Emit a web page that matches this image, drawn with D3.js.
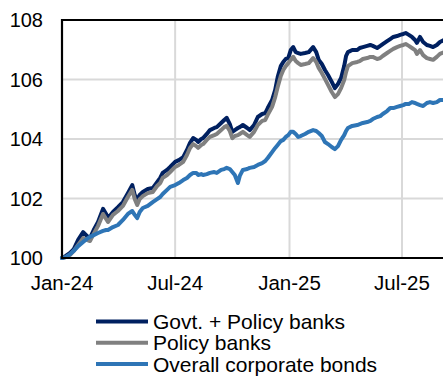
<!DOCTYPE html>
<html>
<head>
<meta charset="utf-8">
<script src="https://cdn.jsdelivr.net/npm/d3@7/dist/d3.min.js"></script>
<style>
  html, body { margin: 0; padding: 0; background: #ffffff; }
  svg { display: block; }
  text { font-family: "Liberation Sans", Arial, sans-serif; fill: #000; }
</style>
</head>
<body>
<svg id="chart" width="443" height="376"></svg>
<script>
// Bond index levels, rebased to 100 at the start of 2024
const dates = [
  "2024-01-01","2024-01-07","2024-01-14","2024-01-20","2024-01-27","2024-02-04","2024-02-10","2024-02-15",
  "2024-02-21","2024-02-28","2024-03-07","2024-03-12","2024-03-15","2024-03-23","2024-03-31","2024-04-08",
  "2024-04-16","2024-04-23","2024-04-27","2024-05-01","2024-05-05","2024-05-10","2024-05-18","2024-05-26",
  "2024-06-02","2024-06-07","2024-06-11","2024-06-18","2024-06-23","2024-07-01","2024-07-07","2024-07-14",
  "2024-07-20","2024-07-25","2024-07-30","2024-08-04","2024-08-07","2024-08-12","2024-08-15","2024-08-21",
  "2024-08-26","2024-09-02","2024-09-06","2024-09-13","2024-09-18","2024-09-22","2024-09-27","2024-10-01",
  "2024-10-05","2024-10-10","2024-10-13","2024-10-18","2024-10-25","2024-10-29","2024-11-05","2024-11-11",
  "2024-11-18","2024-11-23","2024-11-27","2024-12-04","2024-12-09","2024-12-13","2024-12-18","2024-12-22",
  "2024-12-26","2024-12-30","2025-01-03","2025-01-07","2025-01-11","2025-01-15","2025-01-19","2025-01-26",
  "2025-02-01","2025-02-08","2025-02-13","2025-02-17","2025-02-22","2025-02-27","2025-03-04","2025-03-10",
  "2025-03-15","2025-03-20","2025-03-25","2025-03-30","2025-04-02","2025-04-05","2025-04-12","2025-04-20",
  "2025-04-24","2025-04-29","2025-05-06","2025-05-11","2025-05-15","2025-05-22","2025-05-27","2025-05-31",
  "2025-06-07","2025-06-12","2025-06-17","2025-06-23","2025-06-28","2025-07-03","2025-07-07","2025-07-12",
  "2025-07-17","2025-07-22","2025-07-25","2025-07-30","2025-08-04","2025-08-10","2025-08-15","2025-08-20",
  "2025-08-26","2025-08-31","2025-09-07"
];

const govtPolicy = [
  100.00,100.07,100.17,100.30,100.61,100.87,100.74,100.67,
  100.94,101.21,101.65,101.48,101.34,101.55,101.71,101.88,
  102.18,102.45,102.12,101.95,102.12,102.22,102.32,102.35,
  102.55,102.69,102.86,102.96,103.06,103.23,103.29,103.39,
  103.63,103.87,104.03,103.97,103.90,104.00,104.03,104.17,
  104.30,104.37,104.40,104.54,104.64,104.71,104.50,104.24,
  104.30,104.37,104.40,104.47,104.37,104.30,104.47,104.74,
  104.84,104.87,105.04,105.31,105.65,106.08,106.45,106.59,
  106.69,106.72,106.99,107.09,106.92,106.89,106.86,106.89,
  106.92,107.09,106.92,106.66,106.52,106.32,106.15,105.92,
  105.71,105.85,106.05,106.45,106.79,106.92,106.99,106.99,
  107.06,107.09,107.13,107.16,107.13,107.06,107.13,107.19,
  107.29,107.36,107.43,107.46,107.50,107.53,107.56,107.50,
  107.43,107.33,107.23,107.43,107.26,107.16,107.13,107.09,
  107.16,107.26,107.33
];

const policyBanks = [
  100.00,100.03,100.10,100.24,100.44,100.67,100.61,100.57,
  100.81,101.08,101.48,101.31,101.21,101.45,101.58,101.75,
  102.05,102.29,101.98,101.78,101.98,102.08,102.18,102.22,
  102.42,102.52,102.69,102.79,102.89,103.06,103.13,103.23,
  103.46,103.70,103.83,103.76,103.70,103.80,103.83,103.97,
  104.07,104.13,104.17,104.30,104.40,104.44,104.27,104.03,
  104.10,104.13,104.17,104.24,104.13,104.07,104.24,104.47,
  104.61,104.64,104.81,105.08,105.41,105.75,106.12,106.32,
  106.45,106.55,106.66,106.76,106.62,106.55,106.49,106.52,
  106.55,106.72,106.59,106.39,106.22,106.02,105.82,105.58,
  105.41,105.51,105.71,105.98,106.25,106.45,106.55,106.59,
  106.62,106.69,106.72,106.76,106.76,106.69,106.72,106.79,
  106.89,106.96,107.03,107.09,107.13,107.16,107.19,107.13,
  107.06,106.99,106.86,106.99,106.82,106.72,106.69,106.66,
  106.76,106.86,106.92
];

const corporate = [
  100.00,100.03,100.13,100.24,100.40,100.54,100.64,100.71,
  100.77,100.84,100.91,100.94,100.94,101.04,101.11,101.28,
  101.48,101.58,101.45,101.34,101.55,101.68,101.75,101.88,
  101.98,102.05,102.15,102.29,102.39,102.45,102.52,102.62,
  102.69,102.79,102.86,102.86,102.79,102.82,102.79,102.82,
  102.86,102.89,102.86,102.96,102.99,103.03,102.99,102.89,
  102.79,102.52,102.76,102.96,102.99,103.03,103.06,103.13,
  103.19,103.26,103.36,103.56,103.70,103.80,103.93,103.97,
  104.07,104.13,104.24,104.24,104.17,104.07,104.10,104.17,
  104.24,104.30,104.27,104.20,104.10,103.90,103.83,103.73,
  103.66,103.76,103.97,104.13,104.27,104.37,104.44,104.47,
  104.50,104.54,104.57,104.61,104.67,104.74,104.77,104.84,
  104.94,105.04,105.04,105.08,105.11,105.14,105.18,105.18,
  105.24,105.21,105.18,105.14,105.11,105.21,105.24,105.21,
  105.24,105.31,105.31
];

const seriesNames = ["Govt. + Policy banks", "Policy banks", "Overall corporate bonds"];
const seriesColors = ["#002060", "#808080", "#2e75b6"];
const yTicks = [100, 102, 104, 106, 108];
const xTickDates = ["2024-01-01", "2024-07-01", "2025-01-01", "2025-07-01"];
const xTickLabels = ["Jan-24", "Jul-24", "Jan-25", "Jul-25"];

const parse = d3.utcParse("%Y-%m-%d");
const dateObjs = dates.map(parse);
const seriesValues = [govtPolicy, policyBanks, corporate];

const svg = d3.select("#chart");
const plotLeft = 62, plotTop = 20, plotBottom = 258;

// Time axis runs past the right edge of the frame
const x = d3.scaleUtc()
  .domain([parse("2024-01-01"), parse("2025-07-01")])
  .range([plotLeft, 402]);
const xEnd = x(parse("2025-09-10"));
const y = d3.scaleLinear().domain([100, 108]).range([plotBottom, plotTop]);

// Gridlines
const grid = svg.append("g").attr("stroke", "#d9d9d9").attr("stroke-width", 2);
yTicks.filter(v => v > 100 && v < 108).forEach(v => {
  grid.append("line").attr("x1", plotLeft).attr("x2", xEnd).attr("y1", y(v)).attr("y2", y(v));
});
xTickDates.slice(1).forEach(d => {
  const px = x(parse(d));
  grid.append("line").attr("x1", px).attr("x2", px).attr("y1", plotTop).attr("y2", plotBottom);
});

// Series lines
const line = d3.line()
  .x((d, i) => x(dateObjs[i]))
  .y(d => y(d))
  .curve(d3.curveLinear);

seriesValues.forEach((vals, k) => {
  svg.append("path")
    .datum(vals)
    .attr("fill", "none")
    .attr("stroke", seriesColors[k])
    .attr("stroke-width", 4)
    .attr("stroke-linejoin", "round")
    .attr("stroke-linecap", "round")
    .attr("d", line);
});

// Frame: left axis, bottom axis, top border
const frame = svg.append("g").attr("stroke", "#000").attr("stroke-width", 2.2);
frame.append("line").attr("x1", plotLeft).attr("x2", plotLeft).attr("y1", plotTop - 1).attr("y2", plotBottom + 1);
frame.append("line").attr("x1", plotLeft - 1).attr("x2", xEnd).attr("y1", plotBottom).attr("y2", plotBottom);
frame.append("line").attr("x1", plotLeft - 1).attr("x2", xEnd).attr("y1", plotTop).attr("y2", plotTop);

// Y tick labels
svg.append("g").selectAll("text")
  .data(yTicks)
  .join("text")
  .attr("x", 43)
  .attr("y", d => y(d))
  .attr("dy", "0.36em")
  .attr("text-anchor", "end")
  .attr("font-size", 20)
  .text(d => d);

// X tick labels
svg.append("g").selectAll("text")
  .data(xTickDates)
  .join("text")
  .attr("x", d => x(parse(d)))
  .attr("y", 290)
  .attr("text-anchor", "middle")
  .attr("font-size", 20.5)
  .text((d, i) => xTickLabels[i]);

// Legend
const legend = svg.append("g");
seriesNames.forEach((name, k) => {
  const ly = 321.5 + k * 21.3;
  legend.append("line")
    .attr("x1", 96).attr("x2", 148)
    .attr("y1", ly).attr("y2", ly)
    .attr("stroke", seriesColors[k])
    .attr("stroke-width", 4);
  legend.append("text")
    .attr("x", 153)
    .attr("y", ly)
    .attr("dy", "0.36em")
    .attr("font-size", 21)
    .text(name);
});
</script>
</body>
</html>
